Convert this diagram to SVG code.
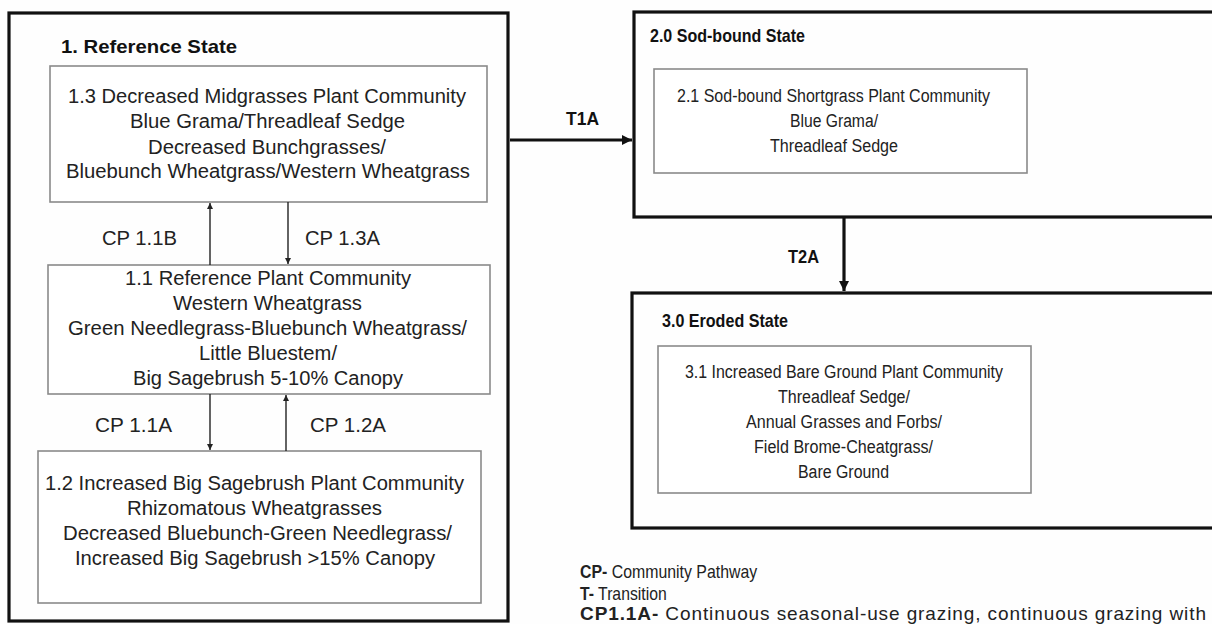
<svg xmlns="http://www.w3.org/2000/svg" width="1212" height="624" viewBox="0 0 1212 624">
<defs>
<style>
.state{fill:none;stroke:#111;stroke-width:3.2}
.comm{fill:#fff;stroke:#8a8a8a;stroke-width:1.6}
.t{font-family:"Liberation Sans",Arial,sans-serif;fill:#222;font-size:20px}
.tr{font-family:"Liberation Sans",Arial,sans-serif;fill:#222;font-size:18px}
.lg{font-family:"Liberation Sans",Arial,sans-serif;fill:#222;font-size:19px}
.h{font-family:"Liberation Sans",Arial,sans-serif;fill:#111;font-size:19px;font-weight:bold}
.cp{stroke:#222;stroke-width:1.4;fill:none}
.tl{stroke:#111;stroke-width:3.2;fill:none}
</style>
<marker id="sa" viewBox="0 0 10 10" refX="10" refY="5" markerWidth="6" markerHeight="6" markerUnits="userSpaceOnUse" orient="auto"><path d="M0,0 L10,5 L0,10 z" fill="#222"/></marker>
<marker id="la" viewBox="0 0 10 10" refX="10" refY="5" markerWidth="11" markerHeight="10" markerUnits="userSpaceOnUse" orient="auto"><path d="M0,0 L10,5 L0,10 z" fill="#111"/></marker>
</defs>
<rect x="0" y="0" width="1212" height="624" fill="#fefefe"/>

<g id="state1">
<rect class="state" x="9" y="13" width="499" height="608"/>
<text class="h" x="61" y="53" textLength="176" lengthAdjust="spacingAndGlyphs">1. Reference State</text>
</g>
<g id="comm13">
<rect class="comm" x="50" y="66" width="437" height="136"/>
<text class="t" x="68" y="103" textLength="398" lengthAdjust="spacingAndGlyphs">1.3 Decreased Midgrasses Plant Community</text>
<text class="t" x="130" y="128" textLength="275" lengthAdjust="spacingAndGlyphs">Blue Grama/Threadleaf Sedge</text>
<text class="t" x="148" y="154" textLength="238" lengthAdjust="spacingAndGlyphs">Decreased Bunchgrasses/</text>
<text class="t" x="66" y="178" textLength="404" lengthAdjust="spacingAndGlyphs">Bluebunch Wheatgrass/Western Wheatgrass</text>
</g>
<g id="comm11">
<rect class="comm" x="48" y="265" width="442" height="129"/>
<text class="t" x="125" y="285" textLength="286" lengthAdjust="spacingAndGlyphs">1.1 Reference Plant Community</text>
<text class="t" x="173" y="310" textLength="189" lengthAdjust="spacingAndGlyphs">Western Wheatgrass</text>
<text class="t" x="68" y="335" textLength="399" lengthAdjust="spacingAndGlyphs">Green Needlegrass-Bluebunch Wheatgrass/</text>
<text class="t" x="199" y="360" textLength="138" lengthAdjust="spacingAndGlyphs">Little Bluestem/</text>
<text class="t" x="133" y="385" textLength="270" lengthAdjust="spacingAndGlyphs">Big Sagebrush 5-10% Canopy</text>
</g>
<g id="comm12">
<rect class="comm" x="38" y="451" width="443" height="152"/>
<text class="t" x="45" y="490" textLength="419" lengthAdjust="spacingAndGlyphs">1.2 Increased Big Sagebrush Plant Community</text>
<text class="t" x="127" y="515" textLength="255" lengthAdjust="spacingAndGlyphs">Rhizomatous Wheatgrasses</text>
<text class="t" x="63" y="540" textLength="389" lengthAdjust="spacingAndGlyphs">Decreased Bluebunch-Green Needlegrass/</text>
<text class="t" x="75" y="565" textLength="360" lengthAdjust="spacingAndGlyphs">Increased Big Sagebrush &gt;15% Canopy</text>
</g>

<g id="state2">
<rect class="state" x="634" y="12" width="580" height="205"/>
<text class="h" x="650" y="42" textLength="155" lengthAdjust="spacingAndGlyphs">2.0 Sod-bound State</text>
</g>
<g id="comm21">
<rect class="comm" x="654" y="69" width="373" height="104"/>
<text class="tr" x="677" y="102" textLength="313" lengthAdjust="spacingAndGlyphs">2.1 Sod-bound Shortgrass Plant Community</text>
<text class="tr" x="790" y="127" textLength="88" lengthAdjust="spacingAndGlyphs">Blue Grama/</text>
<text class="tr" x="770" y="152" textLength="128" lengthAdjust="spacingAndGlyphs">Threadleaf Sedge</text>
</g>

<g id="state3">
<rect class="state" x="632" y="293" width="582" height="235"/>
<text class="h" x="662" y="327" textLength="126" lengthAdjust="spacingAndGlyphs">3.0 Eroded State</text>
</g>
<g id="comm31">
<rect class="comm" x="658" y="346" width="373" height="147"/>
<text class="tr" x="685" y="378" textLength="318" lengthAdjust="spacingAndGlyphs">3.1 Increased Bare Ground Plant Community</text>
<text class="tr" x="778" y="403" textLength="132" lengthAdjust="spacingAndGlyphs">Threadleaf Sedge/</text>
<text class="tr" x="746" y="428" textLength="196" lengthAdjust="spacingAndGlyphs">Annual Grasses and Forbs/</text>
<text class="tr" x="754" y="453" textLength="179" lengthAdjust="spacingAndGlyphs">Field Brome-Cheatgrass/</text>
<text class="tr" x="798" y="478" textLength="91" lengthAdjust="spacingAndGlyphs">Bare Ground</text>
</g>

<g id="connectors">
<line class="cp" x1="210" y1="265" x2="210" y2="203" marker-end="url(#sa)"/>
<line class="cp" x1="288" y1="202" x2="288" y2="264" marker-end="url(#sa)"/>
<line class="cp" x1="210" y1="394" x2="210" y2="450" marker-end="url(#sa)"/>
<line class="cp" x1="286" y1="451" x2="286" y2="395" marker-end="url(#sa)"/>
<line class="tl" x1="510" y1="140" x2="632" y2="140" marker-end="url(#la)"/>
<line class="tl" x1="844" y1="218" x2="844" y2="291" marker-end="url(#la)"/>
<text class="t" x="102" y="245" textLength="75" lengthAdjust="spacingAndGlyphs">CP 1.1B</text>
<text class="t" x="305" y="245" textLength="75" lengthAdjust="spacingAndGlyphs">CP 1.3A</text>
<text class="t" x="95" y="432" textLength="77" lengthAdjust="spacingAndGlyphs">CP 1.1A</text>
<text class="t" x="310" y="432" textLength="76" lengthAdjust="spacingAndGlyphs">CP 1.2A</text>
<text class="h" x="566" y="125" textLength="33" lengthAdjust="spacingAndGlyphs">T1A</text>
<text class="h" x="788" y="263" textLength="31" lengthAdjust="spacingAndGlyphs">T2A</text>
</g>

<g id="legend">
<text class="lg" transform="translate(580,578) scale(0.835,1)" x="0" y="0"><tspan font-weight="bold">CP-</tspan> Community Pathway</text>
<text class="lg" transform="translate(580,600) scale(0.83,1)" x="0" y="0"><tspan font-weight="bold">T-</tspan> Transition</text>
<text class="lg" x="580" y="620" textLength="626" lengthAdjust="spacing"><tspan font-weight="bold">CP1.1A-</tspan> Continuous seasonal-use grazing, continuous grazing with</text>
</g>
</svg>
